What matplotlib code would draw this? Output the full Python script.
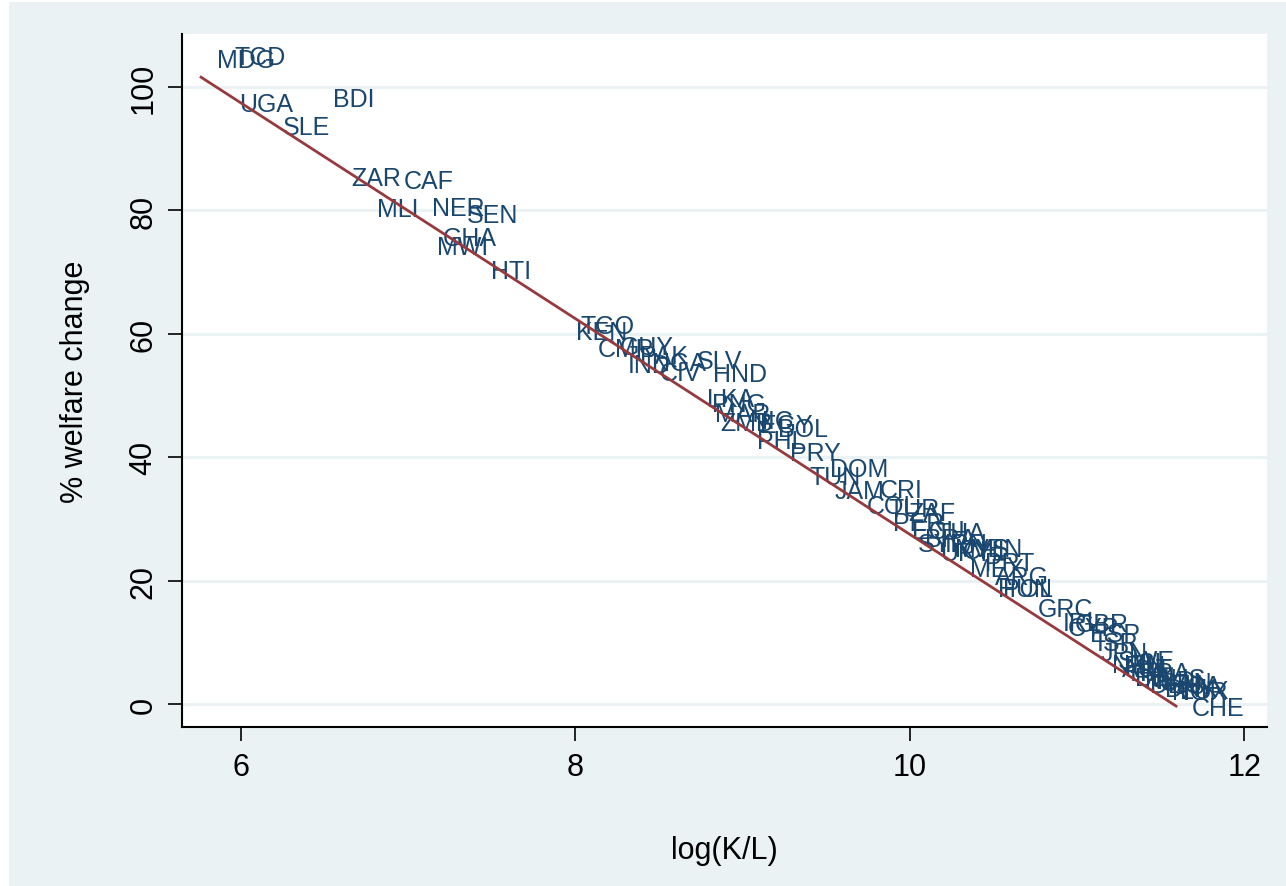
import numpy as np
import matplotlib
matplotlib.use("Agg")
import matplotlib.pyplot as plt
from matplotlib.patches import Rectangle

plt.rcParams['font.family'] = ['Liberation Sans', 'DejaVu Sans']

countries = ["MDG", "TCD", "UGA", "BDI", "SLE", "ZAR", "CAF", "MLI", "NER", "SEN",
             "GHA", "MWI", "HTI", "TGO", "KEN", "CMR", "GUY", "IND", "PAK", "NGA",
             "CIV", "SLV", "HND", "LKA", "PNG", "MAR", "ZMB", "NIC", "EGY", "BOL",
             "PHL", "PRY", "TUN", "DOM", "JAM", "CRI", "COL", "TUR", "ZAF", "PER",
             "ECU", "BRA", "THA", "SYR", "IRN", "URY", "MYS", "CHL", "VEN", "MEX",
             "PRT", "ARG", "HUN", "POL", "GRC", "IRL", "CYP", "GBR", "ESP", "ISR",
             "JPN", "SWE", "NZL", "FIN", "AUT", "ITA", "ISL", "BEL", "FRA", "NLD",
             "DEU", "AUS", "CAN", "DNK", "USA", "NOR", "LUX", "CHE"]

log_kl = [5.761, 5.868, 5.892, 6.455, 6.156, 6.562, 6.879, 6.718, 7.047, 7.256,
          7.112, 7.077, 7.400, 7.932, 7.908, 8.039, 8.171, 8.219, 8.291, 8.362,
          8.410, 8.632, 8.727, 8.691, 8.721, 8.739, 8.769, 8.949, 9.008, 9.116,
          8.990, 9.188, 9.307, 9.427, 9.457, 9.726, 9.648, 9.774, 9.894, 9.804,
          9.917, 9.995, 10.055, 9.953, 10.115, 10.085, 10.175, 10.222, 10.276, 10.264,
          10.354, 10.414, 10.432, 10.462, 10.671, 10.821, 10.850, 10.892, 10.982, 11.024,
          11.042, 11.150, 11.114, 11.191, 11.173, 11.221, 11.233, 11.251, 11.281, 11.311,
          11.341, 11.371, 11.401, 11.431, 11.461, 11.473, 11.520, 11.592]

welfare = [104.70, 105.27, 97.65, 98.43, 93.84, 85.58, 85.09, 80.55, 80.71, 79.55,
           75.85, 74.39, 70.50, 61.59, 60.62, 57.86, 58.18, 55.27, 56.73, 55.59,
           53.97, 55.92, 53.81, 49.76, 48.95, 47.33, 45.87, 46.19, 45.54, 44.89,
           42.95, 41.00, 37.12, 38.41, 34.85, 35.01, 32.41, 31.93, 31.28, 29.66,
           28.36, 27.07, 28.04, 26.26, 26.26, 24.80, 25.45, 25.12, 25.45, 22.20,
           23.18, 20.91, 18.96, 18.96, 15.72, 13.45, 12.64, 13.29, 11.67, 10.21,
           8.59, 7.29, 6.65, 6.48, 6.00, 5.35, 6.97, 4.54, 5.35, 4.05,
           3.40, 4.38, 3.73, 2.76, 3.24, 2.27, 2.43, -0.32]

xticks = [6, 8, 10, 12]
yticks = [0, 20, 40, 60, 80, 100]

BG = '#EAF2F3'
NAVY = '#1A476F'
MAROON = '#973A3E'

fig = plt.figure(figsize=(12.86, 8.87), dpi=100, facecolor='white')
fig.patches.append(Rectangle((9 / 1286, 0), 1 - 9 / 1286, 1 - 3 / 887,
                             transform=fig.transFigure, facecolor=BG,
                             edgecolor='none', zorder=-10))
ax = fig.add_axes([182 / 1286, 1 - 728 / 887, (1267 - 182) / 1286, (728 - 35) / 887])
ax.set_facecolor('white')

x = np.array(log_kl)
y = np.array(welfare)

# grid
for t in yticks:
    ax.axhline(t, color=BG, lw=2.2, zorder=0)

# labels (marker labels at 3 o'clock)
for c, xi, yi in zip(countries, x, y):
    ax.annotate(c, (xi, yi), xytext=(16, -9), textcoords='offset pixels',
                ha='left', va='baseline', fontsize=18, color=NAVY, zorder=3,
                annotation_clip=False)

# linear fit
b, a = np.polyfit(x, y, 1)
xs = np.array([x.min(), x.max()])
ax.plot(xs, a + b * xs, color=MAROON, lw=2.0, zorder=4)

ax.set_xlim(5.647, 12.136)
ax.set_ylim(-3.73, 108.6)
ax.set_xticks(xticks)
ax.set_yticks(yticks)
ax.set_xticklabels([str(v) for v in xticks])
ax.set_yticklabels([str(v) for v in yticks], rotation=90, va='center')

for s in ['top', 'right']:
    ax.spines[s].set_visible(False)
for s in ['left', 'bottom']:
    ax.spines[s].set_linewidth(1.5)
    ax.spines[s].set_color('black')

ax.tick_params(axis='both', direction='out', length=10, width=1.2,
               labelsize=22, colors='black')
ax.tick_params(axis='y', pad=7)
ax.tick_params(axis='x', pad=8)

ax.set_xlabel('log(K/L)', fontsize=22, labelpad=38)
ax.set_ylabel('% welfare change', fontsize=22, labelpad=28)

fig.savefig('out.png', dpi=100, facecolor=fig.get_facecolor())
